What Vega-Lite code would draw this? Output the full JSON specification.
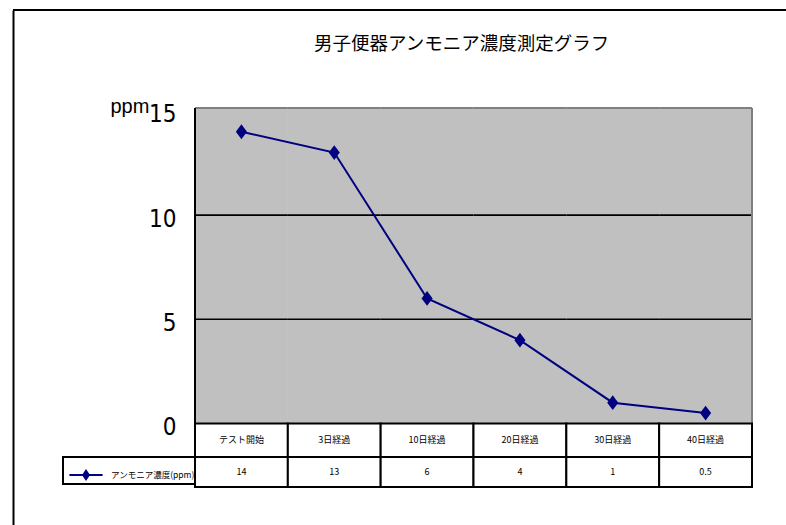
{
  "$schema": "https://vega.github.io/schema/vega-lite/v6.json",
  "width": 773,
  "height": 515,
  "autosize": {"type": "none"},
  "padding": {"left": 13, "top": 10, "right": 0, "bottom": 0},
  "background": "white",
  "config": {"view": {"stroke": null}, "font": "Noto Sans CJK JP"},
  "title": {
    "text": "男子便器アンモニア濃度測定グラフ",
    "font": "Noto Sans CJK JP",
    "fontSize": 18.5,
    "fontWeight": "normal",
    "color": "black",
    "anchor": "middle",
    "frame": "group",
    "baseline": "top",
    "orient": "top",
    "offset": -44,
    "dx": 62
  },
  "data": {
    "values": [
      {"cat": "テスト開始", "v": 14, "series": "アンモニア濃度(ppm)"},
      {"cat": "3日経過", "v": 13, "series": "アンモニア濃度(ppm)"},
      {"cat": "10日経過", "v": 6, "series": "アンモニア濃度(ppm)"},
      {"cat": "20日経過", "v": 4, "series": "アンモニア濃度(ppm)"},
      {"cat": "30日経過", "v": 1, "series": "アンモニア濃度(ppm)"},
      {"cat": "40日経過", "v": 0.5, "series": "アンモニア濃度(ppm)"}
    ]
  },
  "layer": [
    {
      "mark": {"type": "rule", "color": "black", "strokeWidth": 2},
      "encoding": {"y": {"datum": 19.84, "type": "quantitative"}}
    },
    {
      "encoding": {
        "x": {
          "field": "cat",
          "type": "nominal",
          "sort": null,
          "scale": {
            "domain": ["テスト開始", "3日経過", "10日経過", "20日経過", "30日経過", "40日経過"],
            "range": [182, 739],
            "paddingInner": 0,
            "paddingOuter": 0
          },
          "axis": null
        }
      },
      "layer": [
        {
          "mark": {"type": "rect", "fill": "#c0c0c0", "stroke": "#c0c0c0", "strokeWidth": 1},
          "encoding": {
            "y": {
              "datum": 15.14,
              "type": "quantitative",
              "scale": {"domain": [-4.87, 19.84], "nice": false, "zero": false},
              "axis": {
                "orient": "left",
                "values": [0, 5, 10, 15],
                "domain": true,
                "domainColor": "black",
                "domainWidth": 2,
                "ticks": false,
                "tickSize": 0,
                "grid": false,
                "labelFont": "DejaVu Sans Condensed, Liberation Sans",
                "labelFontSize": 24,
                "labelColor": "black",
                "labelPadding": -163,
                "labelOffset": 4,
                "labelBaseline": "middle",
                "title": "ppm",
                "titleFont": "Liberation Sans",
                "titleFontSize": 20,
                "titleFontWeight": "normal",
                "titleColor": "black",
                "titleAngle": 0,
                "titleAlign": "left",
                "titleBaseline": "alphabetic",
                "titleX": 97,
                "titleY": 102
              }
            },
            "y2": {"datum": 0}
          }
        },
        {
          "mark": {"type": "rect", "fill": null, "stroke": "#808080", "strokeWidth": 2},
          "encoding": {"y": {"datum": 15.14}, "y2": {"datum": 15.14}}
        },
        {
          "mark": {"type": "rect", "fill": null, "stroke": "black", "strokeWidth": 1.6},
          "encoding": {"y": {"datum": 10}, "y2": {"datum": 10}}
        },
        {
          "mark": {"type": "rect", "fill": null, "stroke": "black", "strokeWidth": 1.6},
          "encoding": {"y": {"datum": 5}, "y2": {"datum": 5}}
        },
        {
          "transform": [{"filter": "datum.cat == '40日経過'"}],
          "mark": {"type": "rule", "color": "#808080", "strokeWidth": 2},
          "encoding": {
            "x": {"field": "cat", "type": "nominal", "bandPosition": 1},
            "y": {"datum": 15.14},
            "y2": {"datum": 0}
          }
        },
        {
          "transform": [{"filter": "datum.cat == 'テスト開始'"}],
          "mark": {"type": "rule", "color": "black", "strokeWidth": 2},
          "encoding": {
            "x": {"field": "cat", "type": "nominal", "bandPosition": 0},
            "y": {"datum": 15.14},
            "y2": {"datum": 0}
          }
        },
        {
          "mark": {"type": "rect", "fill": "white", "stroke": "black", "strokeWidth": 2},
          "encoding": {"y": {"datum": 0}, "y2": {"datum": -1.607}}
        },
        {
          "mark": {"type": "rect", "fill": "white", "stroke": "black", "strokeWidth": 2},
          "encoding": {"y": {"datum": -1.607}, "y2": {"datum": -3.047}}
        },
        {
          "mark": {"type": "text", "font": "Noto Sans CJK JP", "fontSize": 9, "color": "black", "baseline": "middle"},
          "encoding": {"y": {"datum": -0.8}, "text": {"field": "cat", "type": "nominal"}}
        },
        {
          "mark": {"type": "text", "font": "Noto Sans CJK JP", "fontSize": 9, "color": "black", "baseline": "middle"},
          "encoding": {"y": {"datum": -2.33}, "text": {"field": "v", "type": "nominal"}}
        },
        {
          "mark": {"type": "line", "strokeWidth": 2},
          "encoding": {
            "y": {"field": "v", "type": "quantitative"},
            "color": {
              "field": "series",
              "type": "nominal",
              "scale": {"range": ["#000080"]},
              "legend": {
                "orient": "none",
                "legendX": 50,
                "legendY": 447,
                "title": null,
                "fillColor": "white",
                "strokeColor": "black",
                "padding": 0,
                "symbolType": "M-1,0L1,0M-0.17,0L0,-0.25L0.17,0L0,0.25Z",
                "symbolSize": 1100,
                "symbolStrokeWidth": 2,
                "symbolFillColor": "#000080",
                "symbolStrokeColor": "#000080",
                "symbolOffset": 5,
                "labelOffset": 7,
                "labelFont": "Noto Sans CJK JP",
                "labelFontSize": 8.5,
                "labelColor": "black",
                "encode": {"legend": {"update": {"strokeWidth": {"value": 2}}}}
              }
            }
          }
        },
        {
          "mark": {"type": "point", "filled": true, "opacity": 1, "shape": "M-0.75,0L0,-1L0.75,0L0,1Z", "size": 220, "color": "#000080"},
          "encoding": {"y": {"field": "v", "type": "quantitative"}}
        }
      ]
    }
  ]
}
